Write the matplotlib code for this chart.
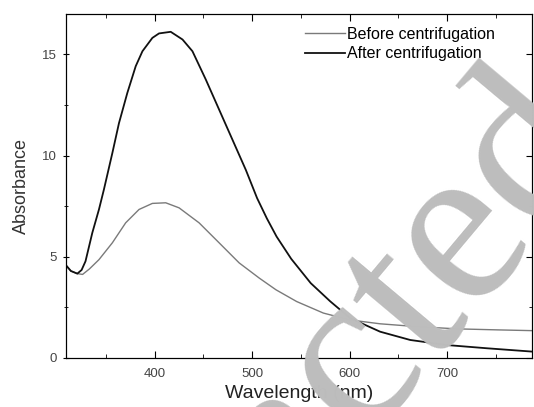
import numpy as np
import matplotlib.pyplot as plt

plt.rcParams["font.family"] = ["Liberation Sans", "DejaVu Sans"]

# -----------------------------
# Data
# -----------------------------
wl_after = [308.5, 314, 320.6, 325, 329, 336, 342.8, 347.9, 356.5, 363.3, 371.9,
            380.5, 387.4, 397.6, 404.4, 416.4, 428.5, 438.7, 452.4, 466.1, 479.8,
            493.5, 505, 515, 525, 540, 560, 580, 600.4, 631.2, 662.1,
            699.8, 740.9, 788.8]
abs_after = [4.61, 4.3, 4.17, 4.35, 4.78, 6.19, 7.34, 8.33, 10.12, 11.6, 13.1,
             14.42, 15.16, 15.82, 16.04, 16.12, 15.74, 15.16, 13.76, 12.27, 10.78,
             9.29, 7.9, 6.9, 6.0, 4.9, 3.7, 2.8, 1.97, 1.30, 0.89,
             0.64, 0.48, 0.31]

wl_before = [308.5, 314, 320.6, 326, 333, 342.8, 356.5, 370.2, 383.9, 397.6, 411.3,
             425, 445.5, 466.1, 486.6, 507.2, 524.4, 545.6, 573, 600.4, 631.2,
             668.9, 710, 751.2, 788.8]
abs_before = [4.61, 4.3, 4.17, 4.13, 4.4, 4.86, 5.69, 6.68, 7.34, 7.64, 7.67,
              7.42, 6.68, 5.69, 4.70, 3.95, 3.37, 2.79, 2.22, 1.88, 1.69,
              1.55, 1.44, 1.39, 1.35]

xticks = [400, 500, 600, 700]
yticks = [0, 5, 10, 15]
watermark = "Retracted"

# -----------------------------
# Plot
# -----------------------------
fig = plt.figure(figsize=(5.34, 4.07), dpi=100)
ax = fig.add_axes([0.1236, 0.1204, 0.8727, 0.8452])

ax.plot(wl_before, abs_before, color="#7a7a7a", lw=1.0, label="Before centrifugation")
ax.plot(wl_after, abs_after, color="#111111", lw=1.3, label="After centrifugation")

ax.set_xlim(309, 787)
ax.set_ylim(0, 17)
ax.set_xticks(xticks)
ax.set_yticks(yticks)
ax.set_xticks(np.arange(350, 800, 100), minor=True)
ax.set_yticks([2.5, 7.5, 12.5], minor=True)
ax.tick_params(axis="x", which="both", direction="in", top=True, labelsize=9.5,
               labelcolor="#444444", pad=7)
ax.tick_params(axis="y", which="both", direction="inout", right=False, labelsize=9.5,
               labelcolor="#444444", pad=4)
ax.tick_params(which="major", length=5)
ax.tick_params(which="minor", length=3)
# right side ticks drawn inward
ax2 = ax.twinx()
ax2.set_ylim(0, 17)
ax2.set_yticks(yticks)
ax2.set_yticks([2.5, 7.5, 12.5], minor=True)
ax2.tick_params(axis="y", which="both", direction="in", labelright=False)
ax2.tick_params(which="major", length=4)
ax2.tick_params(which="minor", length=2.5)

ax.set_xlabel("Wavelength (nm)", fontsize=14, color="#222222", labelpad=4)
ax.set_ylabel("Absorbance", fontsize=13, color="#333333", labelpad=9)

ax.legend(loc="upper right", bbox_to_anchor=(0.951, 1.005), frameon=False, fontsize=11.5,
          handlelength=2.5, handletextpad=0.1, labelspacing=0.3)

# retraction watermark (display pixels, origin bottom-left)
fig.text(38, -422, watermark, transform=None, fontsize=168, color="#bdbdbd",
         family="Liberation Serif", rotation=50, rotation_mode="anchor",
         ha="left", va="baseline", zorder=10)

fig.savefig("out.png", dpi=100)
